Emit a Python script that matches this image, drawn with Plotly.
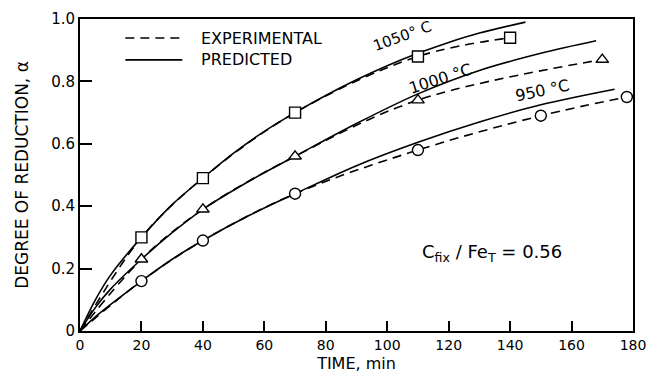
import plotly.graph_objects as go

# Predicted (solid) curves
pred_t_1050 = [0, 5, 10, 20, 30, 40, 50, 60, 70, 80, 90, 100, 110, 120, 130, 145]
pred_a_1050 = [0, 0.10, 0.18, 0.30, 0.405, 0.49, 0.57, 0.64, 0.70, 0.755, 0.805, 0.85, 0.89, 0.925, 0.955, 0.99]
pred_t_1000 = [0, 5, 10, 20, 30, 40, 55, 70, 90, 110, 130, 150, 168]
pred_a_1000 = [0, 0.075, 0.135, 0.23, 0.315, 0.39, 0.48, 0.56, 0.665, 0.76, 0.835, 0.89, 0.93]
pred_t_950 = [0, 5, 10, 20, 30, 40, 55, 70, 90, 110, 130, 150, 174]
pred_a_950 = [0, 0.045, 0.085, 0.16, 0.23, 0.29, 0.37, 0.44, 0.53, 0.605, 0.67, 0.725, 0.775]

# Experimental (dashed) data
exp_t_1050 = [0, 20, 40, 70, 110, 140]
exp_a_1050 = [0, 0.30, 0.49, 0.70, 0.88, 0.94]
exp_t_1000 = [0, 20, 40, 70, 110, 170]
exp_a_1000 = [0, 0.23, 0.39, 0.56, 0.74, 0.87]
exp_t_950 = [0, 20, 40, 70, 110, 150, 178]
exp_a_950 = [0, 0.16, 0.29, 0.44, 0.58, 0.69, 0.75]

x_ticks = [0, 20, 40, 60, 80, 100, 120, 140, 160, 180]
y_ticks = [0, 0.2, 0.4, 0.6, 0.8, 1.0]
y_tick_text = ["0", "0.2", "0.4", "0.6", "0.8", "1.0"]

FONT = "DejaVu Sans, sans-serif"
fig = go.Figure()

for t, a in [(pred_t_1050, pred_a_1050), (pred_t_1000, pred_a_1000), (pred_t_950, pred_a_950)]:
    fig.add_trace(go.Scatter(x=t, y=a, mode="lines", line=dict(color="black", width=1.6, shape="spline"),
                             showlegend=False))

for t, a, sym in [(exp_t_1050, exp_a_1050, "square"), (exp_t_1000, exp_a_1000, "triangle-up"),
                  (exp_t_950, exp_a_950, "circle")]:
    fig.add_trace(go.Scatter(x=t, y=a, mode="lines", line=dict(color="black", width=1.6, dash="9px,6px", shape="spline"),
                             showlegend=False))
    fig.add_trace(go.Scatter(x=t[1:], y=a[1:], mode="markers",
                             marker=dict(symbol=sym, size=11, color="white", line=dict(color="black", width=1.4)),
                             showlegend=False, cliponaxis=False))

# legend drawn manually (paper coords)
fig.add_shape(type="line", xref="paper", yref="paper", x0=0.082, x1=0.185, y0=0.939, y1=0.939,
              line=dict(color="black", width=1.6, dash="9px,6px"))
fig.add_shape(type="line", xref="paper", yref="paper", x0=0.082, x1=0.185, y0=0.869, y1=0.869,
              line=dict(color="black", width=1.6))
fig.add_annotation(xref="paper", yref="paper", x=0.215, y=0.939, text="EXPERIMENTAL", showarrow=False,
                   xanchor="left", yanchor="middle", font=dict(family=FONT, size=16, color="black"))
fig.add_annotation(xref="paper", yref="paper", x=0.215, y=0.869, text="PREDICTED", showarrow=False,
                   xanchor="left", yanchor="middle", font=dict(family=FONT, size=16, color="black"))

# curve labels
fig.add_annotation(x=105, y=0.944, text="1050° C", showarrow=False, textangle=-20,
                   font=dict(family=FONT, size=15, color="black"))
fig.add_annotation(x=117.5, y=0.808, text="1000 °C", showarrow=False, textangle=-18,
                   font=dict(family=FONT, size=16, color="black"))
fig.add_annotation(x=150.5, y=0.77, text="950 °C", showarrow=False, textangle=-12,
                   font=dict(family=FONT, size=16, color="black"))
fig.add_annotation(x=134, y=0.25, text="C<sub>fix</sub> / Fe<sub>T</sub> = 0.56", showarrow=False,
                   font=dict(family=FONT, size=18, color="black"))

fig.update_xaxes(range=[0, 180], tickvals=x_ticks, ticks="inside", ticklen=10, tickwidth=1.5, tickcolor="black",
                 showline=True, linecolor="black", linewidth=2, mirror=True, showgrid=False, zeroline=False,
                 automargin=False, ticklabeloverflow="allow",
                 title=dict(text="TIME, min", font=dict(family=FONT, size=16, color="black"), standoff=6),
                 tickfont=dict(family=FONT, size=14, color="black"))
fig.update_yaxes(range=[0, 1.0], tickvals=y_ticks, ticktext=y_tick_text, ticks="inside", ticklen=12, tickwidth=1.5,
                 tickcolor="black", showline=True, linecolor="black", linewidth=2, mirror=True, showgrid=False,
                 zeroline=False, automargin=False, ticklabeloverflow="allow",
                 title=dict(text="DEGREE OF REDUCTION, α", font=dict(family=FONT, size=17, color="black"), standoff=18),
                 tickfont=dict(family=FONT, size=15, color="black"))

fig.update_layout(width=647, height=381, margin=dict(l=80, r=14, t=19, b=50),
                  paper_bgcolor="white", plot_bgcolor="white", font=dict(family=FONT, color="black"))

fig.write_html("out.html", config={"displayModeBar": False},
               post_script="document.body.style.margin='0';document.body.style.overflow='hidden';")
